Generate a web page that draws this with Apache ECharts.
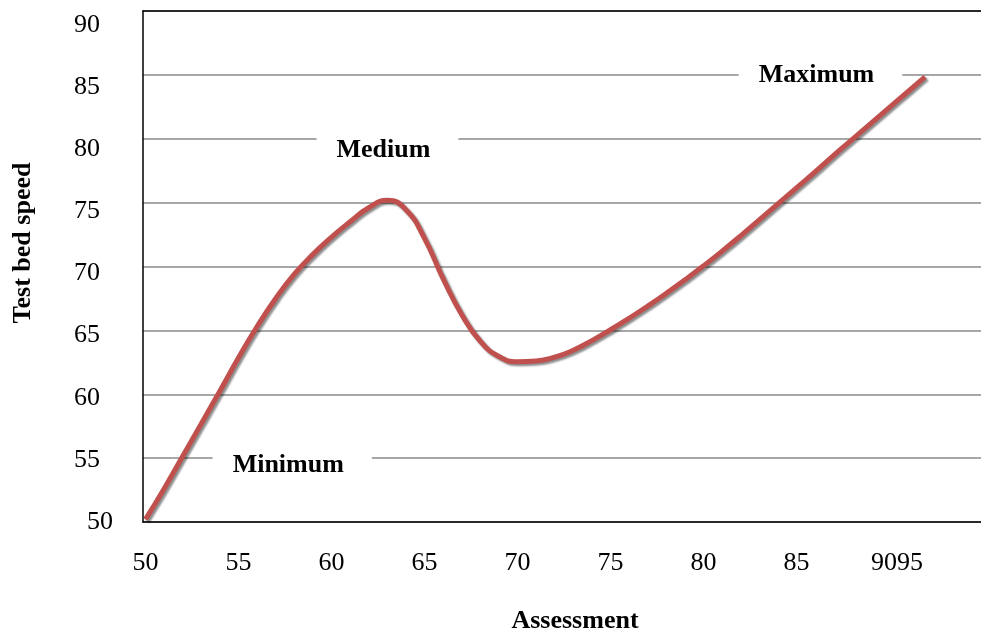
<!DOCTYPE html>
<html><head><meta charset="utf-8">
<script src="https://cdn.jsdelivr.net/npm/echarts@6/dist/echarts.min.js"></script>
<style>html,body{margin:0;padding:0;background:#fff}#c{width:981px;height:633px}</style>
</head><body><div id="c"></div>
<script>
// ---- data ----
const xTickValues = [50, 55, 60, 65, 70, 75, 80, 85, 90];
const xTickLabels = ['50', '55', '60', '65', '70', '75', '80', '85', '9095'];
const yTickValues = [50, 55, 60, 65, 70, 75, 80, 85, 90];
const yTickLabels = ['50', '55', '60', '65', '70', '75', '80', '85', '90'];

const assessment = [50, 51, 52, 53, 54, 55, 56, 57, 58, 59, 60, 61, 62, 63, 64, 65, 66, 67, 68, 69, 70, 71, 72, 73, 74, 75, 76, 77, 78, 79, 80, 81, 82, 83, 84, 85, 86, 87, 88, 89, 90, 91, 91.91];
const speed      = [50.2, 52.6, 55.15, 57.7, 60.25, 62.85, 65.3, 67.5, 69.4, 70.95, 72.3, 73.5, 74.6, 75.18, 74.45, 72.2, 69.05, 66.25, 64.15, 62.95, 62.55, 62.6, 62.9, 63.45, 64.2, 65.05, 65.95, 66.9, 67.9, 68.95, 70.05, 71.2, 72.4, 73.65, 74.9, 76.15, 77.4, 78.7, 79.95, 81.2, 82.45, 83.7, 84.84];

const noteTexts = ['Minimum', 'Medium', 'Maximum'];
const noteX = [57.89, 63.01, 86.29];
const noteY = [54.46, 79.06, 85.0];

const xTitle = 'Assessment';
const yTitle = 'Test bed speed';

// ---- chart ----
const F = 'Liberation Serif';
const chart = echarts.init(document.getElementById('c'), null, {renderer: 'canvas'});
const xMin = 49.866, xMax = 94.92;

chart.setOption({
  animation: false,
  backgroundColor: '#fff',
  grid: {left: 143, right: 0, top: 11, bottom: 111, containLabel: false, outerBoundsMode: 'none'},
  xAxis: [
    {
      type: 'value', position: 'bottom', min: xMin, max: xMax,
      axisLine: {show: true, lineStyle: {color: '#000', width: 1.5}},
      axisTick: {show: false},
      splitLine: {show: false},
      axisLabel: {
        customValues: xTickValues,
        margin: 28,
        fontFamily: F, fontSize: 26, color: '#000',
        formatter: function (v) {
          const i = xTickValues.findIndex(t => Math.abs(t - v) < 1e-6);
          if (i < 0) return '';
          if (i === xTickLabels.length - 1) return '{s|' + xTickLabels[i] + '}';
          return xTickLabels[i];
        },
        rich: {s: {padding: [0, 0, 0, 15], fontFamily: F, fontSize: 26, color: '#000'}}
      },
      name: xTitle, nameLocation: 'middle', nameGap: 86,
      nameTextStyle: {fontFamily: F, fontSize: 26, fontWeight: 'bold', color: '#000', padding: [0, 0, 0, 26]}
    },
    {
      type: 'value', position: 'top', min: xMin, max: xMax,
      axisLine: {show: true, lineStyle: {color: '#000', width: 1.5}},
      axisTick: {show: false}, axisLabel: {show: false}, splitLine: {show: false}
    }
  ],
  yAxis: [
    {
      type: 'value', position: 'left', min: 50, max: 90, interval: 5,
      axisLine: {show: true, lineStyle: {color: '#000', width: 1.5}},
      axisTick: {show: false},
      axisLabel: {show: false},
      splitLine: {show: true, lineStyle: {color: '#8a8a8a', width: 1.5}},
      name: yTitle, nameLocation: 'middle', nameGap: 107, nameRotate: 90,
      nameTextStyle: {fontFamily: F, fontSize: 26, fontWeight: 'bold', color: '#000', padding: [0, 0, 0, 47]}
    },
    {
      type: 'value', position: 'left', min: 50, max: 91.13,
      axisLine: {show: false}, axisTick: {show: false}, splitLine: {show: false},
      axisLabel: {
        customValues: yTickValues,
        margin: 30,
        fontFamily: F, fontSize: 26, color: '#000',
        formatter: function (v) {
          const i = yTickValues.findIndex(t => Math.abs(t - v) < 1e-6);
          if (i < 0) return '';
          if (i === 0) return yTickLabels[i];
          return '{p|' + yTickLabels[i] + '}';
        },
        rich: {p: {padding: [0, 13, 0, 0], fontFamily: F, fontSize: 26, color: '#000'}}
      }
    }
  ],
  series: [
    {
      type: 'line',
      xAxisIndex: 0, yAxisIndex: 0,
      data: assessment.map((x, i) => [x, speed[i]]),
      smooth: 0.5,
      showSymbol: false,
      symbol: 'none',
      lineStyle: {
        color: '#C0504D', width: 5, cap: 'butt',
        shadowColor: 'rgba(0,0,0,0.45)', shadowBlur: 2, shadowOffsetX: 2, shadowOffsetY: 2
      },
      z: 3, silent: true
    },
    {
      type: 'scatter',
      xAxisIndex: 0, yAxisIndex: 0,
      data: noteTexts.map((t, i) => ({value: [noteX[i], noteY[i]], name: t})),
      symbolSize: 1,
      itemStyle: {color: '#fff', opacity: 1},
      emphasis: {disabled: true},
      silent: true, z: 5,
      label: {
        show: true, position: 'inside',
        formatter: p => p.name,
        fontFamily: F, fontSize: 26, fontWeight: 'bold', color: '#000', opacity: 1,
        backgroundColor: '#fff',
        padding: [6, 28, 4, 20]
      }
    }
  ]
});
</script>
</body></html>
